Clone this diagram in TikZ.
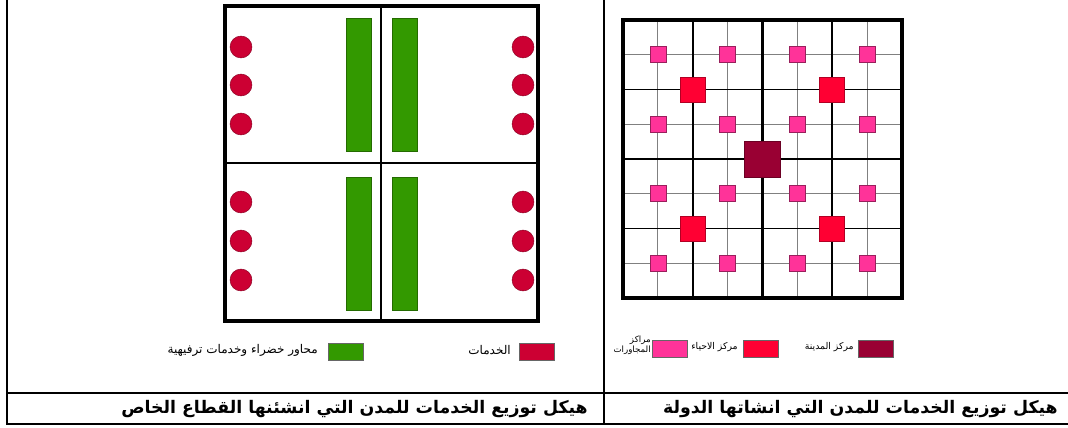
\documentclass[tikz,border=0pt]{standalone}
\usepackage{fontspec}
\newfontfamily\arabicfont[Script=Arabic]{DejaVu Sans}
\TeXXeTstate=1
\newcommand{\artxt}[1]{{\arabicfont\beginR #1\endR}}
\definecolor{greenzone}{HTML}{339900}
\definecolor{service}{HTML}{CC0033}
\definecolor{citycentre}{HTML}{990033}
\definecolor{districtc}{HTML}{FF0033}
\definecolor{neighbourc}{HTML}{FF3399}

\begin{document}
\begin{tikzpicture}[x=0.75pt,y=-0.75pt,
    keybox/.style={draw=black!60,minimum width=26.5pt,minimum height=12.5pt,inner sep=0pt},
    keytext/.style={font=\fontsize{7}{8}\selectfont,inner sep=0pt,anchor=east,align=right},
    captiontext/.style={font=\fontsize{13}{15}\selectfont\bfseries,inner sep=0pt,anchor=east}]
    \useasboundingbox (0,0) rectangle (1068,428);
    % table lines
    \draw[line width=1.4pt] (7,0)--(7,424)--(1068,424);
    \draw[line width=1.4pt] (7,393)--(1068,393);
    \draw[line width=1.4pt] (604,0)--(604,424);

    % left plan (private sector)
    \foreach \y in {18,177} {
        \draw[fill=greenzone,draw=greenzone!70!black,thin] (346,\y) rectangle (371,\y+133);
        \draw[fill=greenzone,draw=greenzone!70!black,thin] (392,\y) rectangle (417,\y+133);
    }
    \foreach \x in {241,523}
        \foreach \y in {47,85,124,202,241,280}
            \draw[fill=service,draw=service!70!black] (\x,\y) circle[radius=8.2pt];
    \draw[line width=1.5pt] (381,6)--(381,321);
    \draw[line width=1.5pt] (225,163)--(538,163);
    \draw[line width=2.4pt] (225,6) rectangle (538,321);

    % right plan (state) grid
    \foreach \i in {1,3,5,7} {
        \draw[gray,line width=0.6pt] (623+\i*34.875,20)--(623+\i*34.875,298);
        \draw[gray,line width=0.6pt] (623,20+\i*34.75)--(902,20+\i*34.75);
    }
    \foreach \i in {2,6} {
        \draw[line width=1.2pt] (623+\i*34.875,20)--(623+\i*34.875,298);
        \draw[line width=1.2pt] (623,20+\i*34.75)--(902,20+\i*34.75);
    }
    \draw[line width=2.2pt] (762.5,20)--(762.5,298);
    \draw[line width=2.2pt] (623,159)--(902,159);
    \draw[line width=3pt] (623,20) rectangle (902,298);
    % neighbourhood, district and city centres
    \foreach \i in {1,3,5,7}
        \foreach \j in {1,3,5,7}
            \draw[fill=neighbourc,draw=neighbourc!60!black,thin]
                (623+\i*34.875-8,20+\j*34.75-8) rectangle ++(16,16);
    \foreach \i in {2,6}
        \foreach \j in {2,6}
            \draw[fill=districtc,draw=districtc!70!black,thin]
                (623+\i*34.875-12.5,20+\j*34.75-12.5) rectangle ++(25,25);
    \draw[fill=citycentre,draw=citycentre!70!black,thin] (744.5,141) rectangle ++(36,36);

    % keys, left
    \node[keybox,fill=service] (keyservice) at (537,351.5) {};
    \node[keytext,font=\fontsize{9}{10}\selectfont] (lblservice) at (511,350) {\artxt{الخدمات}};
    \node[keybox,fill=greenzone] (keygreen) at (345.5,351.5) {};
    \node[keytext,font=\fontsize{9}{10}\selectfont] (lblgreen) at (318,350) {\artxt{محاور خضراء وخدمات ترفيهية}};
    % keys, right
    \node[keybox,fill=citycentre] (keycity) at (875.5,348.5) {};
    \node[keytext] (lblcity) at (854,347) {\artxt{مركز المدينة}};
    \node[keybox,fill=districtc] (keydistrict) at (761,348.5) {};
    \node[keytext] (lbldistrict) at (738,347) {\artxt{مركز الاحياء}};
    \node[keybox,fill=neighbourc] (keyneighbour) at (670,349) {};
    \node[keytext,font=\fontsize{6.5}{7.5}\selectfont] (lblneighbour) at (651,345)
        {\artxt{مراكز}\\\artxt{المجاورات}};

    % captions
    \node[captiontext] (capstate) at (1058,409)
        {\artxt{هيكل توزيع الخدمات للمدن التي انشاتها الدولة}};
    \node[captiontext] (capprivate) at (588,409)
        {\artxt{هيكل توزيع الخدمات للمدن التي انشئنها القطاع الخاص}};
\end{tikzpicture}
\end{document}
